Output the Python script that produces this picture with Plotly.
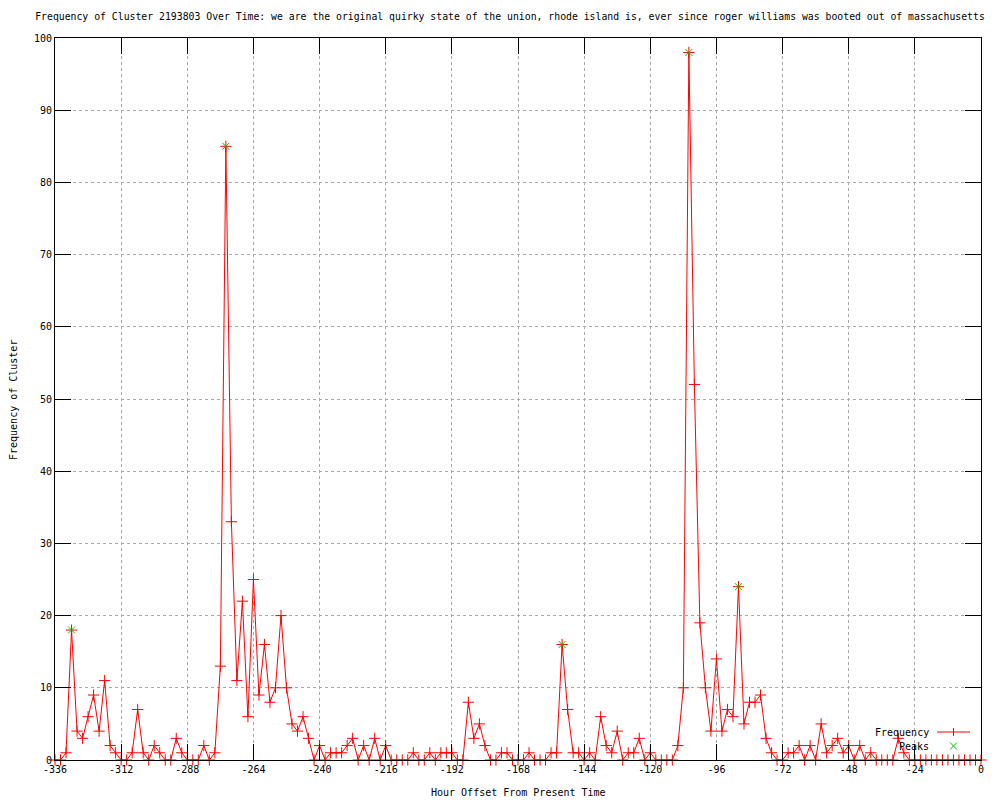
import plotly.graph_objects as go

# ---- data ----
hours = list(range(-336, 1, 2))
frequency = [
    0, 0, 1, 18, 4, 3, 6, 9, 4, 11,
    2, 1, 0, 0, 1, 7, 1, 0, 2, 1,
    0, 0, 3, 1, 0, 0, 0, 2, 0, 1,
    13, 85, 33, 11, 22, 6, 25, 9, 16, 8,
    10, 20, 10, 5, 4, 6, 3, 0, 2, 0,
    1, 1, 1, 2, 3, 0, 2, 0, 3, 0,
    2, 0, 0, 0, 0, 1, 0, 0, 1, 0,
    1, 1, 1, 0, 0, 8, 3, 5, 2, 0,
    0, 1, 1, 0, 0, 0, 1, 0, 0, 0,
    1, 1, 16, 7, 1, 1, 0, 1, 0, 6,
    2, 1, 4, 0, 1, 1, 3, 0, 1, 0,
    0, 0, 0, 2, 10, 98, 52, 19, 10, 4,
    14, 4, 7, 6, 24, 5, 8, 8, 9, 3,
    1, 0, 0, 1, 1, 2, 0, 2, 0, 5,
    1, 2, 3, 1, 2, 0, 2, 0, 1, 0,
    0, 0, 0, 3, 1, 0, 0, 0, 0, 0,
    0, 0, 0, 0, 0, 0, 0, 0, 0,
]
peak_hours = [-330, -274, -152, -106, -88]
peak_values = [18, 85, 16, 98, 24]

x_ticks = list(range(-336, 1, 24))
y_ticks = list(range(0, 101, 10))

title_text = ("Frequency of Cluster 2193803 Over Time: we are the original quirky state of the union, "
              "rhode island is, ever since roger williams was booted out of massachusetts")
x_title = "Hour Offset From Present Time"
y_title = "Frequency of Cluster"

RED = "#ff0000"
GREEN = "#00c000"
FONT = "DejaVu Sans Mono"

# ---- layout geometry (window pixels; page body has an 8px margin) ----
OFF = 8
W, H = 1000 - OFF, 800 - OFF
PL, PR, PT, PB = 55, 981, 38, 760     # plot area in window pixels
L, R, T, B = PL - OFF, 1000 - PR, PT - OFF, 800 - PB
pw, ph = PR - PL, PB - PT


def px(xp):
    return (xp - PL) / pw


def py(yp):
    return (PB - yp) / ph


fig = go.Figure()
fig.add_trace(go.Scatter(
    x=hours, y=frequency, mode="lines+markers", name="Frequency",
    line=dict(color=RED, width=1),
    marker=dict(symbol="cross-thin-open", size=8, line=dict(color=RED, width=1), color=RED),
    cliponaxis=False, showlegend=False,
))
fig.add_trace(go.Scatter(
    x=peak_hours, y=peak_values, mode="markers", name="Peaks",
    marker=dict(symbol="x-thin-open", size=7, line=dict(color=GREEN, width=1), color=GREEN),
    cliponaxis=False, showlegend=False,
))

axis_common = dict(
    showline=True, linecolor="black", linewidth=1, mirror="ticks",
    ticks="inside", ticklen=16, tickwidth=1, tickcolor="black",
    showgrid=True, gridcolor="#a8a8a8", gridwidth=1, griddash="dot",
    zeroline=False, tickfont=dict(family=FONT, size=10, color="black"),
)

fig.update_layout(
    width=W, height=H,
    margin=dict(l=L, r=R, t=T, b=B, pad=0),
    paper_bgcolor="white", plot_bgcolor="white",
    font=dict(family=FONT, size=10, color="black"),
    title=dict(text=title_text, x=(510 - OFF) / W, xanchor="center", xref="container",
               y=1 - (17 - OFF) / H, yanchor="middle", yref="container",
               font=dict(family=FONT, size=9.8, color="black")),
    xaxis=dict(range=[-336, 0], tickvals=x_ticks, ticktext=[str(v) for v in x_ticks], **axis_common),
    yaxis=dict(range=[0, 100], tickvals=y_ticks, ticktext=[str(v) for v in y_ticks], **axis_common),
    showlegend=False,
)

# axis titles
fig.add_annotation(text=x_title, xref="paper", yref="paper", x=px(519), y=py(792),
                   showarrow=False, xanchor="center", yanchor="middle",
                   font=dict(family=FONT, size=10, color="black"))
fig.add_annotation(text=y_title, xref="paper", yref="paper", x=px(13), y=py(400),
                   showarrow=False, xanchor="center", yanchor="middle", textangle=-90,
                   font=dict(family=FONT, size=10, color="black"))

# gnuplot-style key (text then sample)
for label, yk in (("Frequency", 732), ("Peaks", 746)):
    fig.add_annotation(text=label, xref="paper", yref="paper", x=px(931), y=py(yk),
                       showarrow=False, xanchor="right", yanchor="middle",
                       font=dict(family=FONT, size=10, color="black"))
fig.add_shape(type="line", xref="paper", yref="paper", x0=px(937), x1=px(970),
              y0=py(732), y1=py(732), line=dict(color=RED, width=1))
fig.add_shape(type="line", xref="paper", yref="paper", x0=px(953.5), x1=px(953.5),
              y0=py(728), y1=py(736), line=dict(color=RED, width=1))
fig.add_shape(type="line", xref="paper", yref="paper", x0=px(950), x1=px(957),
              y0=py(742.5), y1=py(749.5), line=dict(color=GREEN, width=1))
fig.add_shape(type="line", xref="paper", yref="paper", x0=px(950), x1=px(957),
              y0=py(749.5), y1=py(742.5), line=dict(color=GREEN, width=1))

fig.write_html("out.html")
